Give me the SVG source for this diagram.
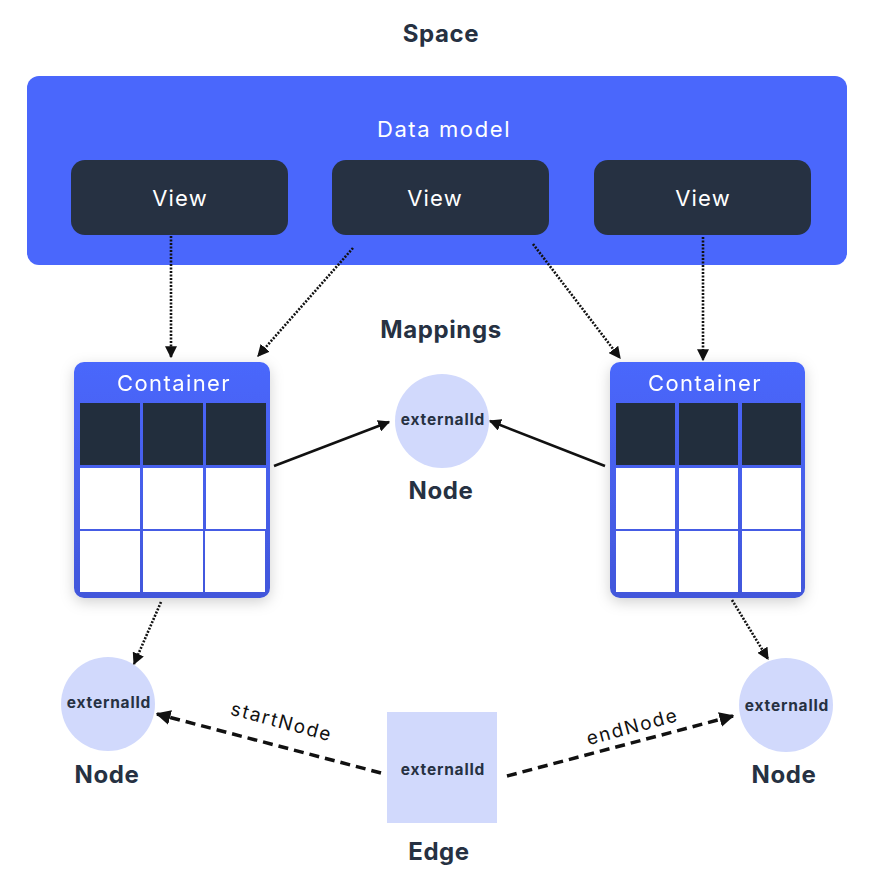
<svg xmlns="http://www.w3.org/2000/svg" width="870" height="873" viewBox="0 0 870 873">
<defs>
  <style>
    .title{font-family:Inter,"Open Sans",sans-serif;font-weight:700;font-size:24px;letter-spacing:0.6px;fill:#263142;text-anchor:middle}
    .wt{font-family:Inter,"Open Sans",sans-serif;font-weight:400;font-size:22px;fill:#ffffff;text-anchor:middle}
    .eid{font-family:Inter,"Open Sans",sans-serif;font-weight:700;font-size:15.5px;letter-spacing:0.8px;fill:#263142;text-anchor:middle}
    .lbl{font-family:Inter,"Open Sans",sans-serif;font-weight:400;font-size:19px;letter-spacing:1.7px;fill:#111111;text-anchor:middle}
    .view{fill:#263142}
    .pale{fill:#d1d9fc}
    .hdr{fill:#222d3d}
    .cell{fill:#ffffff}
    .dot{fill:none;stroke:#111;stroke-width:2.6;stroke-dasharray:2 1.5}
    .solid{fill:none;stroke:#111;stroke-width:2.5}
    .dash{fill:none;stroke:#111;stroke-width:3.5;stroke-dasharray:10 6}
  </style>
  <marker id="ah" viewBox="0 0 10 10" refX="9" refY="5" markerWidth="12" markerHeight="12" markerUnits="userSpaceOnUse" orient="auto">
    <path d="M0,0 L10,5 L0,10 Z" fill="#111"/>
  </marker>
  <marker id="ahb" viewBox="0 0 10 10" refX="9" refY="5" markerWidth="15" markerHeight="15" markerUnits="userSpaceOnUse" orient="auto">
    <path d="M0,0 L10,5 L0,10 Z" fill="#111"/>
  </marker>
  <linearGradient id="cg" x1="0" y1="0" x2="0" y2="1">
    <stop offset="0" stop-color="#4a67fc"/>
    <stop offset="1" stop-color="#4257db"/>
  </linearGradient>
  <filter id="sh" x="-20%" y="-20%" width="140%" height="140%">
    <feDropShadow dx="0" dy="4" stdDeviation="7" flood-color="#000" flood-opacity="0.18"/>
  </filter>
</defs>
<rect width="870" height="873" fill="#ffffff"/>

<text class="title" x="441" y="42">Space</text>

<g id="datamodel">
  <rect x="27" y="76" width="820" height="189" rx="12" fill="#4a67fc"/>
  <text class="wt" x="444" y="137" letter-spacing="1.6">Data model</text>
</g>
<g id="view1">
  <rect class="view" x="71" y="160" width="217" height="75" rx="14"/>
  <text class="wt" x="180" y="206" letter-spacing="1.2">View</text>
</g>
<g id="view2">
  <rect class="view" x="332" y="160" width="217" height="75" rx="14"/>
  <text class="wt" x="435" y="206" letter-spacing="1.2">View</text>
</g>
<g id="view3">
  <rect class="view" x="594" y="160" width="217" height="75" rx="14"/>
  <text class="wt" x="703" y="206" letter-spacing="1.2">View</text>
</g>

<text class="title" x="441" y="338">Mappings</text>

<g id="container1" filter="url(#sh)">
  <rect x="74" y="362" width="196" height="236" rx="10" fill="url(#cg)"/>
  <text class="wt" x="174" y="391" letter-spacing="1.4">Container</text>
  <rect class="hdr" x="80" y="403" width="60" height="62"/>
  <rect class="hdr" x="143" y="403" width="60" height="62"/>
  <rect class="hdr" x="206" y="403" width="60" height="62"/>
  <rect class="cell" x="80" y="468" width="60" height="61"/>
  <rect class="cell" x="143" y="468" width="60" height="61"/>
  <rect class="cell" x="206" y="468" width="60" height="61"/>
  <rect class="cell" x="80" y="531" width="60" height="61"/>
  <rect class="cell" x="143" y="531" width="60" height="61"/>
  <rect class="cell" x="205" y="531" width="60" height="61"/>
</g>
<g id="container2" filter="url(#sh)">
  <rect x="610" y="362" width="195" height="236" rx="10" fill="url(#cg)"/>
  <text class="wt" x="705" y="391" letter-spacing="1.4">Container</text>
  <rect class="hdr" x="616" y="403" width="59" height="62"/>
  <rect class="hdr" x="679" y="403" width="59" height="62"/>
  <rect class="hdr" x="742" y="403" width="59" height="62"/>
  <rect class="cell" x="616" y="468" width="59" height="61"/>
  <rect class="cell" x="679" y="468" width="59" height="61"/>
  <rect class="cell" x="742" y="468" width="59" height="61"/>
  <rect class="cell" x="616" y="531" width="59" height="61"/>
  <rect class="cell" x="679" y="531" width="59" height="61"/>
  <rect class="cell" x="742" y="531" width="59" height="61"/>
</g>

<g id="node-mid">
  <circle class="pale" cx="442" cy="421" r="47"/>
  <text class="eid" x="443" y="425">externalId</text>
  <text class="title" x="441" y="499">Node</text>
</g>
<g id="node-left">
  <circle class="pale" cx="108" cy="704" r="47"/>
  <text class="eid" x="109" y="708">externalId</text>
  <text class="title" x="107" y="783">Node</text>
</g>
<g id="node-right">
  <circle class="pale" cx="786" cy="705" r="47"/>
  <text class="eid" x="787" y="711">externalId</text>
  <text class="title" x="784" y="783">Node</text>
</g>
<g id="edge">
  <rect class="pale" x="387" y="712" width="110" height="111"/>
  <text class="eid" x="443" y="775">externalId</text>
  <text class="title" x="439" y="860">Edge</text>
</g>

<g id="connectors">
  <line class="dot" x1="171" y1="236" x2="171" y2="357" marker-end="url(#ah)"/>
  <line class="dot" x1="353" y1="248" x2="258" y2="356" marker-end="url(#ah)"/>
  <line class="dot" x1="533" y1="244" x2="620" y2="358" marker-end="url(#ah)"/>
  <line class="dot" x1="703" y1="237" x2="703" y2="360" marker-end="url(#ah)"/>
  <line class="solid" x1="274" y1="466" x2="389" y2="422" marker-end="url(#ah)"/>
  <line class="solid" x1="605" y1="466" x2="490" y2="421" marker-end="url(#ah)"/>
  <line class="dot" x1="161" y1="602" x2="134" y2="664" marker-end="url(#ah)"/>
  <line class="dot" x1="732" y1="600" x2="768" y2="659" marker-end="url(#ah)"/>
  <line class="dash" x1="381" y1="773" x2="157" y2="714" marker-end="url(#ahb)"/>
  <line class="dash" x1="507" y1="776" x2="733" y2="716" marker-end="url(#ahb)"/>
  <text class="lbl" transform="translate(280,728) rotate(15)">startNode</text>
  <text class="lbl" transform="translate(634,733) rotate(-15)">endNode</text>
</g>
</svg>
